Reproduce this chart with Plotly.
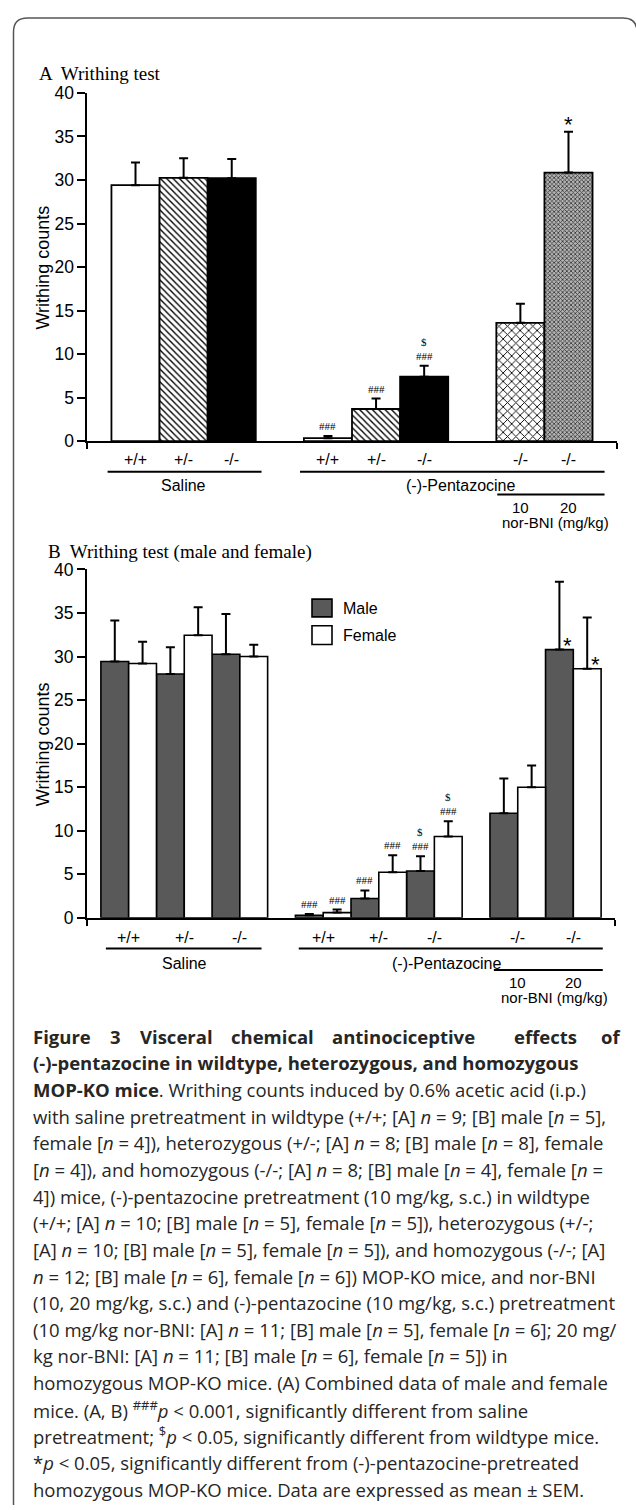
import plotly.graph_objects as go

W, H = 636, 1510

# ---------------- data ----------------
treatments = ["Saline", "(-)-Pentazocine", "nor-BNI"]
genotype_labels = ["+/+", "+/-", "-/-", "+/+", "+/-", "-/-", "-/-", "-/-"]
group_index = [0, 0, 0, 1, 1, 1, 2, 2]
norbni_doses = ["10", "20"]

# Panel A (combined)
a_means = [29.4, 30.25, 30.2, 0.35, 3.7, 7.4, 13.6, 30.85]
a_sem = [2.6, 2.25, 2.2, 0.25, 1.2, 1.27, 2.2, 4.7]
a_hash = [False, False, False, True, True, True, False, False]
a_dollar = [False, False, False, False, False, True, False, False]
a_star = [False, False, False, False, False, False, False, True]

# Panel B (male / female)
b_male = [29.43, 28.0, 30.26, 0.3, 2.21, 5.38, 12.0, 30.8]
b_male_sem = [4.7, 3.06, 4.64, 0.15, 0.94, 1.69, 4.0, 7.8]
b_female = [29.2, 32.45, 30.0, 0.6, 5.23, 9.34, 15.0, 28.6]
b_female_sem = [2.5, 3.21, 1.36, 0.35, 1.96, 1.76, 2.5, 5.9]
b_male_hash = [False, False, False, True, True, True, False, False]
b_female_hash = [False, False, False, True, True, True, False, False]
b_male_dollar = [False, False, False, False, False, True, False, False]
b_female_dollar = [False, False, False, False, False, True, False, False]
b_male_star = [False, False, False, False, False, False, False, True]
b_female_star = [False, False, False, False, False, False, False, True]

# ---------------- helpers ----------------
def px(x):
    return x / W

def py(y):
    return 1 - y / H

def positions(groups, gap):
    return [i + gap * g for i, g in enumerate(groups)]

SANS = "Liberation Sans, Arial, sans-serif"
SERIF = "Liberation Serif, Times New Roman, serif"
CAP = "Open Sans, Noto Sans, sans-serif"
MALE_COL = "#595959"

# bar fill styles for panel A (by genotype / treatment)
STYLE = {
    "open": dict(color="white"),
    "hatch": dict(color="white", pattern=dict(shape="\\", fgcolor="black", bgcolor="white",
                                              size=4.5, solidity=0.3, fillmode="replace")),
    "solid": dict(color="black"),
    "cross": dict(color="white", pattern=dict(shape="x", fgcolor="black", bgcolor="white",
                                              size=6, solidity=0.28, fillmode="replace")),
    "dots": dict(color="#a6a6a6", pattern=dict(shape="x", fgcolor="#333333", bgcolor="#b4b4b4",
                                               size=3, solidity=0.45, fillmode="replace")),
}
a_style = ["open", "hatch", "solid", "open", "hatch", "solid", "cross", "dots"]

fig = go.Figure()

# ---------------- Panel A ----------------
xa = positions(group_index, 1.0)
for i in range(len(a_means)):
    mk = dict(STYLE[a_style[i]])
    mk["line"] = dict(color="black", width=1.8)
    fig.add_trace(go.Bar(
        x=[xa[i]], y=[a_means[i]], width=1.0, xaxis="x", yaxis="y", marker=mk,
        error_y=dict(type="data", symmetric=False, array=[a_sem[i]], arrayminus=[0],
                     color="black", thickness=2, width=4.5),
        showlegend=False, hoverinfo="skip"))

# ---------------- Panel B ----------------
xb = positions(group_index, 0.5)
fig.add_trace(go.Bar(
    x=xb, y=b_male, width=0.5, offset=-0.5, xaxis="x2", yaxis="y2", name="Male",
    marker=dict(color=MALE_COL, line=dict(color="black", width=1.6)),
    error_y=dict(type="data", symmetric=False, array=b_male_sem, arrayminus=[0] * 8,
                 color="black", thickness=2, width=4.5),
    showlegend=False, hoverinfo="skip"))
fig.add_trace(go.Bar(
    x=xb, y=b_female, width=0.5, offset=0.0, xaxis="x2", yaxis="y2", name="Female",
    marker=dict(color="white", line=dict(color="black", width=1.6)),
    error_y=dict(type="data", symmetric=False, array=b_female_sem, arrayminus=[0] * 8,
                 color="black", thickness=2, width=4.5),
    showlegend=False, hoverinfo="skip"))

ann = []
shapes = []

# significance marks
def marks(xs, means, sems, hashes, dollars, stars, xref, yref, star_side=False, dx=0.0):
    for x, m, s, hsh, dl, st in zip(xs, means, sems, hashes, dollars, stars):
        top = m + s
        if hsh:
            ann.append(dict(x=x + dx, y=top, xref=xref, yref=yref, text="###", showarrow=False,
                            yanchor="middle", yshift=10, font=dict(family=SERIF, size=11, color="black")))
        if dl:
            ann.append(dict(x=x + dx, y=top, xref=xref, yref=yref, text="$", showarrow=False,
                            yanchor="middle", yshift=24, font=dict(family=SERIF, size=11, color="black")))
        if st:
            if star_side:
                ann.append(dict(x=x + dx, y=m, xref=xref, yref=yref, text="*", showarrow=False,
                                xanchor="left", yanchor="middle", yshift=4,
                                font=dict(family=SANS, size=22, color="black")))
            else:
                ann.append(dict(x=x + dx, y=top, xref=xref, yref=yref, text="*", showarrow=False,
                                yanchor="middle", yshift=7, font=dict(family=SANS, size=22, color="black")))

marks(xa, a_means, a_sem, a_hash, a_dollar, a_star, "x", "y")
marks(xb, b_male, b_male_sem, b_male_hash, b_male_dollar, [False] * 8, "x2", "y2", dx=-0.25)
marks(xb, b_female, b_female_sem, b_female_hash, b_female_dollar, [False] * 8, "x2", "y2", dx=0.25)
marks(xb, b_male, b_male_sem, [False] * 8, [False] * 8, b_male_star, "x2", "y2", star_side=True, dx=-0.22)
marks(xb, b_female, b_female_sem, [False] * 8, [False] * 8, b_female_star, "x2", "y2", star_side=True, dx=0.28)

# x category labels and group labels
def xlabels(xs, xref, rows, pent_x, sal_line, pent_line, nor_line, nor_x):
    lab_y, line_y, grp_y, nline_y, dose_y, nbni_y = rows
    f16 = dict(family=SANS, size=16, color="black")
    f15 = dict(family=SANS, size=15, color="black")
    for x, lab in zip(xs, genotype_labels):
        ann.append(dict(x=x, y=py(lab_y), xref=xref, yref="paper", text=lab, showarrow=False,
                        yanchor="middle", font=f16))
    sal_center = sum(xs[:3]) / 3
    ann.append(dict(x=sal_center, y=py(grp_y), xref=xref, yref="paper", text=treatments[0],
                    showarrow=False, yanchor="middle", font=f16))
    ann.append(dict(x=pent_x, y=py(grp_y), xref=xref, yref="paper", text=treatments[1],
                    showarrow=False, yanchor="middle", font=f16))
    for x, d in zip(xs[6:], norbni_doses):
        ann.append(dict(x=x, y=py(dose_y), xref=xref, yref="paper", text=d, showarrow=False,
                        yanchor="middle", font=f15))
    ann.append(dict(x=nor_x, y=py(nbni_y), xref=xref, yref="paper", text="nor-BNI (mg/kg)",
                    showarrow=False, yanchor="middle", font=f15))
    for (x0, x1), yy in ((sal_line, line_y), (pent_line, line_y), (nor_line, nline_y)):
        shapes.append(dict(type="line", xref=xref, yref="paper", x0=x0, x1=x1, y0=py(yy), y1=py(yy),
                           line=dict(color="black", width=2)))

xlabels(xa, "x", (456, 468, 482, 491, 504, 519), 6.75, (-0.58, 2.62), (3.42, 9.75), (7.52, 9.75), 8.74)
xlabels(xb, "x2", (940, 951, 966, 973, 986, 1001), 5.72, (-0.41, 2.39), (3.06, 8.53), (6.57, 8.53), 7.67)

# panel titles and y-axis titles
ann.append(dict(x=px(37), y=py(64), xref="paper", yref="paper", text="A  Writhing test", showarrow=False,
                xanchor="left", yanchor="middle", font=dict(family=SERIF, size=19, color="black")))
ann.append(dict(x=px(46), y=py(549), xref="paper", yref="paper", text="B  Writhing test (male and female)",
                showarrow=False, xanchor="left", yanchor="middle", font=dict(family=SERIF, size=19, color="black")))
for yc in (261, 744):
    ann.append(dict(x=px(43), y=py(yc), xref="paper", yref="paper", text="Writhing counts", showarrow=False,
                    textangle=-90, xanchor="center", yanchor="middle", font=dict(family=SANS, size=18, color="black")))

# legend (panel B)
for (y0, y1, col, lab, ly) in ((597, 615, MALE_COL, "Male", 607), (624, 643, "white", "Female", 634)):
    shapes.append(dict(type="rect", xref="paper", yref="paper", x0=px(312), x1=px(332), y0=py(y1), y1=py(y0),
                       fillcolor=col, line=dict(color="black", width=1.6)))
    ann.append(dict(x=px(341), y=py(ly), xref="paper", yref="paper", text=lab, showarrow=False,
                    xanchor="left", yanchor="middle", font=dict(family=SANS, size=16, color="black")))

# outer frame (rounded corners)
L, R, T, B, r = 13.5, 637.0, 8.0, 1515.0, 14.0
path = (f"M {px(L)},{py(B)} L {px(L)},{py(T + r)} Q {px(L)},{py(T)} {px(L + r)},{py(T)} "
        f"L {px(R - r)},{py(T)} Q {px(R)},{py(T)} {px(R)},{py(T + r)} L {px(R)},{py(B)}")
shapes.append(dict(type="path", xref="paper", yref="paper", path=path, line=dict(color="#555555", width=1.5)))

# caption
CAP_COL = "#262626"
CAP_SIZE = 18.5
first_words = [("Figure", 31), ("3", 108), ("Visceral", 138), ("chemical", 229),
               ("antinociceptive", 330), ("effects", 512), ("of", 622)]
line0 = 1040
step = 27
for k, (w, x) in enumerate(first_words):
    ann.append(dict(x=px(x), y=py(line0), xref="paper", yref="paper", text=f"<b>{w}</b>", showarrow=False,
                    xanchor="right" if k == len(first_words) - 1 else "left", yanchor="middle",
                    font=dict(family=CAP, size=CAP_SIZE, color=CAP_COL)))
cap_lines = [
    "<b>(-)-pentazocine in wildtype, heterozygous, and homozygous</b>",
    "<b>MOP-KO mice</b>. Writhing counts induced by 0.6% acetic acid (i.p.)",
    "with saline pretreatment in wildtype (+/+; [A] <i>n</i> = 9; [B] male [<i>n</i> = 5],",
    "female [<i>n</i> = 4]), heterozygous (+/-; [A] <i>n</i> = 8; [B] male [<i>n</i> = 8], female",
    "[<i>n</i> = 4]), and homozygous (-/-; [A] <i>n</i> = 8; [B] male [<i>n</i> = 4], female [<i>n</i> =",
    "4]) mice, (-)-pentazocine pretreatment (10 mg/kg, s.c.) in wildtype",
    "(+/+; [A] <i>n</i> = 10; [B] male [<i>n</i> = 5], female [<i>n</i> = 5]), heterozygous (+/-;",
    "[A] <i>n</i> = 10; [B] male [<i>n</i> = 5], female [<i>n</i> = 5]), and homozygous (-/-; [A]",
    "<i>n</i> = 12; [B] male [<i>n</i> = 6], female [<i>n</i> = 6]) MOP-KO mice, and nor-BNI",
    "(10, 20 mg/kg, s.c.) and (-)-pentazocine (10 mg/kg, s.c.) pretreatment",
    "(10 mg/kg nor-BNI: [A] <i>n</i> = 11; [B] male [<i>n</i> = 5], female [<i>n</i> = 6]; 20 mg/",
    "kg nor-BNI: [A] <i>n</i> = 11; [B] male [<i>n</i> = 6], female [<i>n</i> = 5]) in",
    "homozygous MOP-KO mice. (A) Combined data of male and female",
    "mice. (A, B) <sup>###</sup><i>p</i> &lt; 0.001, significantly different from saline",
    "pretreatment; <sup>$</sup><i>p</i> &lt; 0.05, significantly different from wildtype mice.",
    "*<i>p</i> &lt; 0.05, significantly different from (-)-pentazocine-pretreated",
    "homozygous MOP-KO mice. Data are expressed as mean ± SEM.",
]
for i, t in enumerate(cap_lines, start=1):
    ann.append(dict(x=px(31), y=py(line0 + step * i), xref="paper", yref="paper", text=t, showarrow=False,
                    xanchor="left", yanchor="middle", font=dict(family=CAP, size=CAP_SIZE, color=CAP_COL)))

axis_common = dict(showgrid=False, zeroline=False, showline=True, linecolor="black", linewidth=2,
                   ticks="outside", tickcolor="black", tickwidth=2)

fig.update_layout(
    width=W, height=H, margin=dict(l=0, r=0, t=0, b=0),
    paper_bgcolor="white", plot_bgcolor="rgba(0,0,0,0)",
    barmode="overlay", showlegend=False,
    xaxis=dict(domain=[px(87.4), px(616.6)], range=[-1, 10], anchor="y",
               tickvals=[-1, 10], ticklen=6, showticklabels=False, **axis_common),
    yaxis=dict(domain=[py(437), py(84)], range=[0, 40], dtick=5, anchor="x", ticklen=8,
               tickfont=dict(family=SANS, size=17.5, color="black"), **axis_common),
    xaxis2=dict(domain=[px(87), px(615)], range=[-0.75, 8.75], anchor="y2",
                tickvals=[-0.75, 8.75], ticklen=6, showticklabels=False, **axis_common),
    yaxis2=dict(domain=[py(920), py(567)], range=[0, 40], dtick=5, anchor="x2", ticklen=8,
                tickfont=dict(family=SANS, size=17.5, color="black"), **axis_common),
    annotations=ann, shapes=shapes,
)

fig.write_html("out.html")
